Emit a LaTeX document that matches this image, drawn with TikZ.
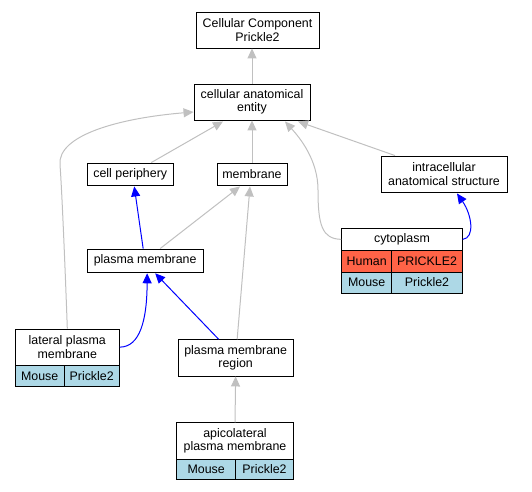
\documentclass[tikz,border=0pt]{standalone}
\usepackage{fontspec}
\setmainfont{Liberation Sans}
\usetikzlibrary{arrows.meta,calc}
\definecolor{edgegray}{RGB}{192,192,192}
\definecolor{human}{RGB}{255,99,71}
\definecolor{mouse}{RGB}{173,216,230}
\definecolor{edgeblue}{RGB}{0,0,255}
\newcommand\gbox[7]{\node[gnode,fill=#6,minimum width={(#4)-(#2)},minimum height={(#5)-(#3)}] (#1) at ({((#2)+(#4))/2},{((#3)+(#5))/2}) {#7};}
\tikzset{
  gnode/.style={draw=black,line width=0.9pt,inner sep=0pt,align=center,font=\fontsize{12.4}{13.2}\selectfont},
  gedge/.style={draw=edgegray,line width=1pt,-{Triangle[length=10pt,width=9pt]}},
  bedge/.style={draw=edgeblue,line width=1pt,-{Triangle[length=10pt,width=9pt]}}
}
\begin{document}
\begin{tikzpicture}[x=1pt,y=-1pt]
\useasboundingbox (0,0) rectangle (532,491);
\gbox{cc}{196}{12}{319}{48}{white}{Cellular Component\\Prickle2}
\gbox{cae}{194}{84}{310}{120}{white}{cellular anatomical\\entity}
\gbox{cp}{87.5}{163}{173}{185}{white}{cell periphery}
\gbox{mem}{217}{163}{287}{185}{white}{membrane}
\gbox{ias}{381}{156}{507}{192}{white}{intracellular\\anatomical structure}
\gbox{cyth}{341.7}{228}{462.3}{250.7}{white}{cytoplasm}
\gbox{cyth1}{341.7}{250.7}{391.7}{272}{human}{Human}
\gbox{cyth2}{391.7}{250.7}{462.3}{272}{human}{PRICKLE2}
\gbox{cytm1}{341.7}{272}{391.7}{293}{mouse}{Mouse}
\gbox{cytm2}{391.7}{272}{462.3}{293}{mouse}{Prickle2}
\gbox{pm}{87.3}{249}{203}{272.3}{white}{plasma membrane}
\gbox{lpmh}{15.3}{329}{119.3}{365.3}{white}{lateral plasma\\membrane}
\gbox{lpmm1}{15.3}{365.3}{64}{386.7}{mouse}{Mouse}
\gbox{lpmm2}{64}{365.3}{119.3}{386.7}{mouse}{Prickle2}
\gbox{pmr}{178}{339.7}{293.3}{376}{white}{plasma membrane\\region}
\gbox{apmh}{176.7}{422.7}{293.3}{459}{white}{apicolateral\\plasma membrane}
\gbox{apmm1}{176.7}{459}{235.7}{479.7}{mouse}{Mouse}
\gbox{apmm2}{235.7}{459}{293.3}{479.7}{mouse}{Prickle2}
% edges
\draw[gedge] (cae.north) -- (cae.north |- cc.south);
\draw[gedge] ($(cp.north)+(21,0)$) -- ($(cae.south)+(-29,1)$);
\draw[gedge] (mem.north) -- (cae.south);
\draw[gedge] ($(ias.north)+(-49,0)$) -- ($(cae.south)+(46,1)$);
\draw[gedge] (cyth.west) .. controls (322,239) and (318,225) .. (318,190) .. controls (318,160) and (300,138) .. ($(cae.south)+(33,1)$);
\draw[gedge] (lpmh.north) .. controls (66,290) and (62,190) .. (60,165) .. controls (57,135) and (120,118) .. ($(cae.west)+(0,10)$);
\draw[bedge] (cyth.east) .. controls (475,238) and (472,215) .. ($(ias.south)+(13,1)$);
\draw[bedge] ($(pm.north)+(-2,0)$) -- ($(cp.south)+(4,1)$);
\draw[gedge] ($(pm.north)+(15,0)$) -- ($(mem.south)+(-12,1)$);
\draw[gedge] ($(pmr.north)+(1.5,0)$) -- ($(mem.south)+(-2,1)$);
\draw[bedge] (lpmh.east) .. controls (140,347) and (147,320) .. ($(pm.south)+(2,0.5)$);
\draw[bedge] ($(pmr.north)+(-17,0)$) -- ($(pm.south)+(10,0.5)$);
\draw[gedge] (apmh.north) -- (pmr.south);
\end{tikzpicture}
\end{document}
